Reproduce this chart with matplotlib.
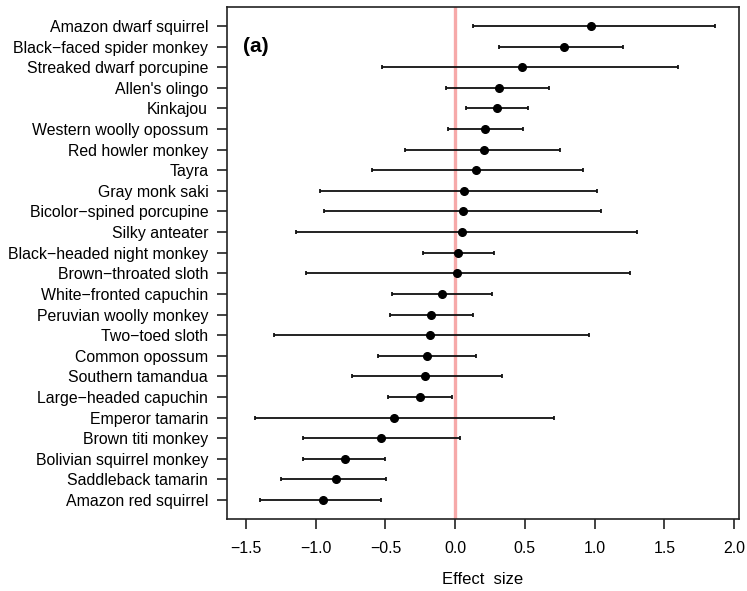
import matplotlib
matplotlib.use("Agg")
import matplotlib.pyplot as plt
import numpy as np

species = [
    "Amazon dwarf squirrel", "Black\u2212faced spider monkey", "Streaked dwarf porcupine",
    "Allen's olingo", "Kinkajou", "Western woolly opossum", "Red howler monkey", "Tayra",
    "Gray monk saki", "Bicolor\u2212spined porcupine", "Silky anteater",
    "Black\u2212headed night monkey", "Brown\u2212throated sloth", "White\u2212fronted capuchin",
    "Peruvian woolly monkey", "Two\u2212toed sloth", "Common opossum", "Southern tamandua",
    "Large\u2212headed capuchin", "Emperor tamarin", "Brown titi monkey",
    "Bolivian squirrel monkey", "Saddleback tamarin", "Amazon red squirrel",
]
effect = [0.972, 0.780, 0.477, 0.313, 0.301, 0.214, 0.207, 0.147, 0.065, 0.055, 0.048,
          0.021, 0.017, -0.092, -0.176, -0.179, -0.200, -0.215, -0.249, -0.441, -0.533,
          -0.793, -0.854, -0.945]
lower = [0.125, 0.315, -0.526, -0.063, 0.081, -0.054, -0.360, -0.596, -0.969, -0.938,
         -1.143, -0.227, -1.073, -0.451, -0.470, -1.299, -0.555, -0.743, -0.483, -1.434,
         -1.092, -1.092, -1.251, -1.401]
upper = [1.864, 1.202, 1.598, 0.672, 0.525, 0.486, 0.754, 0.920, 1.021, 1.048, 1.301,
         0.277, 1.255, 0.262, 0.125, 0.959, 0.149, 0.335, -0.025, 0.711, 0.033, -0.504,
         -0.499, -0.531]
xticks = [-1.5, -1.0, -0.5, 0.0, 0.5, 1.0, 1.5, 2.0]

plt.rcParams['font.family'] = ['Liberation Sans', 'DejaVu Sans']

fig = plt.figure(figsize=(7.47, 5.91), dpi=100)
ax = fig.add_axes([227/747, 1-519/591, 512/747, 512/591])

n = len(species)
y = np.arange(n, 0, -1)
eff = np.array(effect)
lo = np.array(lower)
hi = np.array(upper)

ax.axvline(0, color='#F6A9A9', lw=2.4, zorder=1)
ax.errorbar(eff, y, xerr=[eff - lo, hi - eff], fmt='o', color='black', ms=5.5,
            ecolor='#111111', elinewidth=1.3, capsize=1.6, capthick=1.3, zorder=3)

xr = (-1.5, 1.9)
d = (xr[1] - xr[0]) * 0.04
ax.set_xlim(xr[0] - d, xr[1] + d)
ax.set_ylim(1 - 23 * 0.04, n + 23 * 0.04)
ax.set_yticks(y)
ax.set_yticklabels(species)
ax.set_xticks(xticks)
ax.set_xticklabels([("\u2212" if v < 0 else "") + f"{abs(v):.1f}" for v in xticks])
ax.tick_params(axis='both', labelsize=11.4, length=7, width=1.2, color='#222222')
ax.tick_params(axis='y', pad=6.5)
ax.tick_params(axis='x', pad=9)
for s in ax.spines.values():
    s.set_linewidth(1.2)
    s.set_color('#222222')
ax.set_xlabel("Effect  size", fontsize=12, labelpad=11)
ax.text(0.032, 1 - (47 - 7) / 512, "(a)", transform=ax.transAxes, fontsize=15,
        fontweight='bold', va='center')

fig.savefig("out.png", dpi=100)
